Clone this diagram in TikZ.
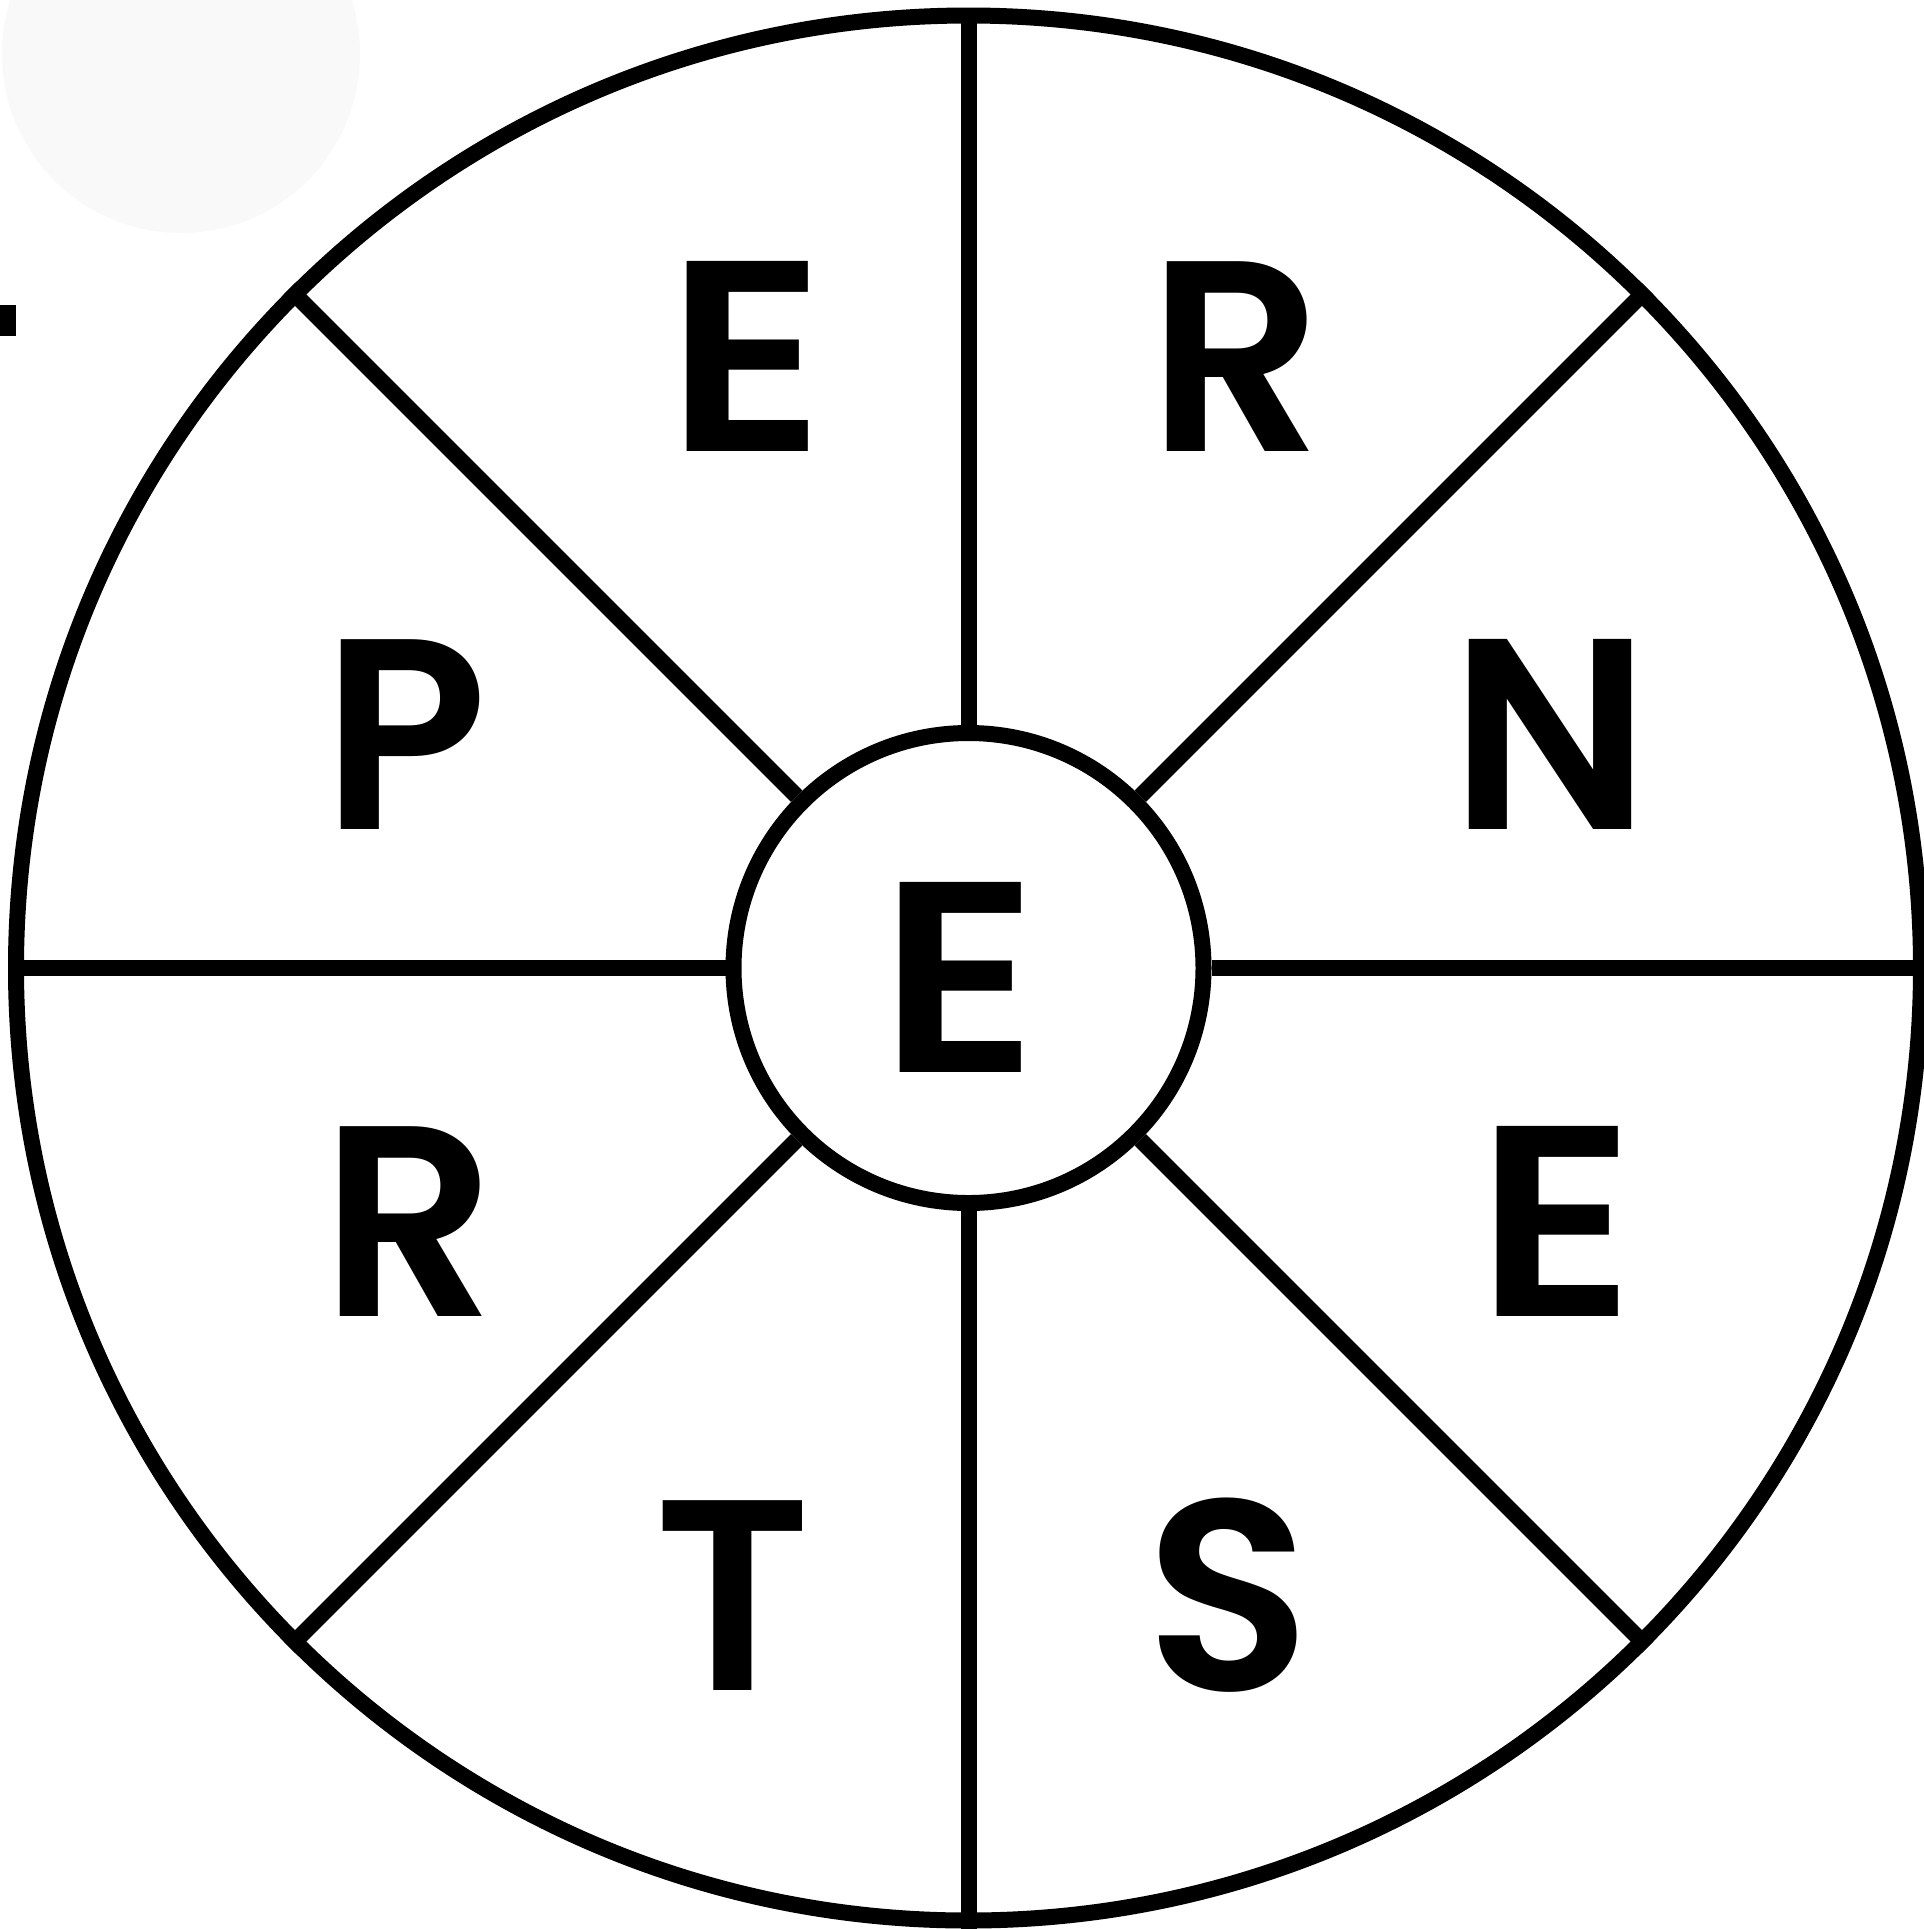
\documentclass[tikz,border=0pt]{standalone}
\usepackage{fontspec}
\setmainfont{Poppins}[BoldFont={Poppins SemiBold}]
\definecolor{ghost}{HTML}{F9F9F9}
\tikzset{
  ring/.style={circle, draw=black, line width=4pt, inner sep=0pt},
  spoke/.style={draw=black, line width=4pt},
  letter/.style={inner sep=0pt, anchor=base, font=\fontsize{68}{68}\selectfont\bfseries}
}
\newcommand{\wideE}{\scalebox{1.1}[1]{E}}
\begin{document}
\begin{tikzpicture}[x=0.25pt,y=-0.25pt]
\useasboundingbox (0,0) rectangle (1924,1929);
\fill[white] (0,0) rectangle (1924,1929);
% faint artifacts
\fill[ghost] (181,54) circle (179);
\fill[black] (0,305) rectangle (16,336);
% rings
\node[ring, minimum size=476.25pt] (outer) at (968.5,968) {};
\node[ring, minimum size=117.5pt] (inner) at (968.5,968) {};
% spokes
\foreach \a in {0,45,...,315} {
  \draw[spoke] (inner.\a) -- (outer.\a);
}
% letters
\node[letter] (c)  at (959,1072) {\wideE};
\node[letter] (l1) at (746,451) {\wideE};
\node[letter] (l2) at (1236,451) {R};
\node[letter] (l3) at (1550,829) {N};
\node[letter] (l4) at (1556,1316) {\wideE};
\node[letter] (l5) at (1228,1690) {S};
\node[letter] (l6) at (733,1690) {T};
\node[letter] (l7) at (409,1316) {R};
\node[letter] (l8) at (405,829) {P};
\end{tikzpicture}
\end{document}
